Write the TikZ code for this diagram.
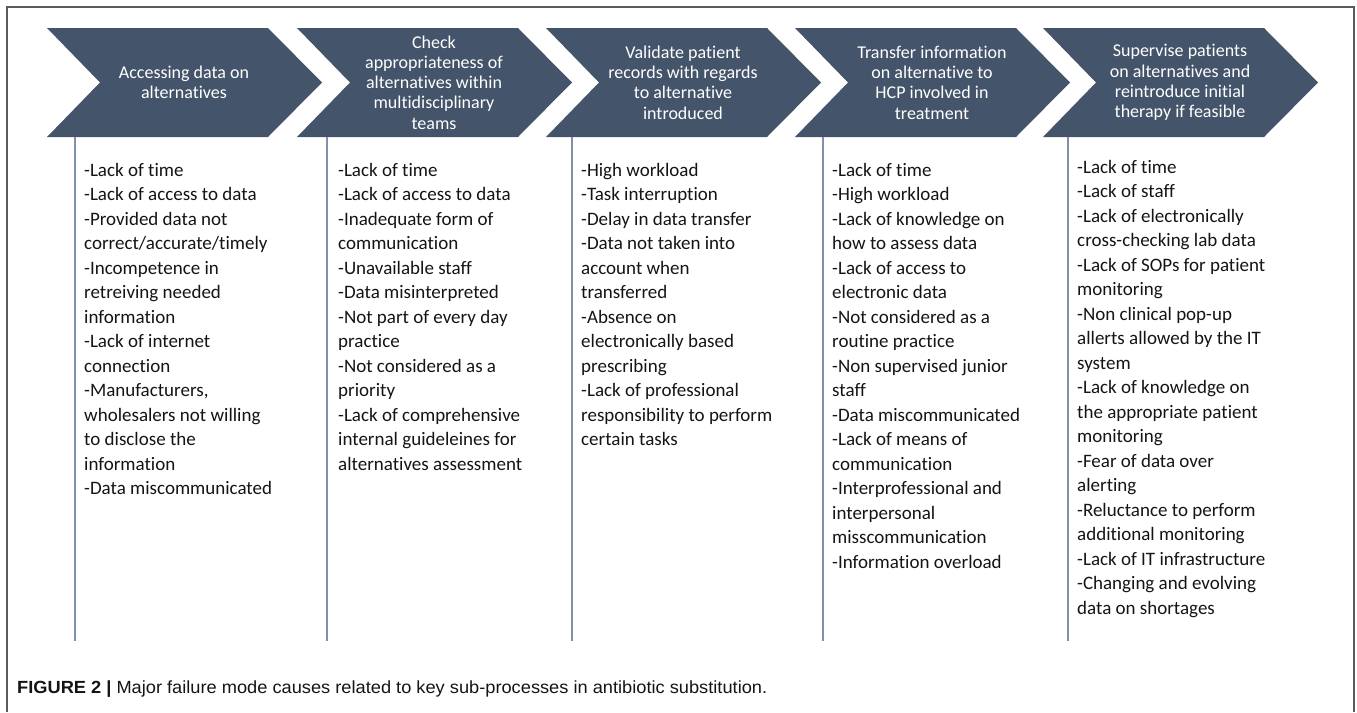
\documentclass[tikz,border=0pt]{standalone}
\usepackage{fontspec}
\usepackage{graphicx}
\newfontfamily\bodyfont[RawFeature={-liga;-clig;-calt;-dlig}]{Carlito}
\newfontfamily\capfont{Liberation Sans}
\definecolor{chev}{HTML}{44546A}
\definecolor{vline}{HTML}{8091AB}
\definecolor{frame}{HTML}{5A5A5A}
\definecolor{txt}{HTML}{141414}
\tikzset{
  chevron/.style={fill=chev, draw=none},
  headtxt/.style={text=white, align=center, inner sep=0pt, font=\bodyfont\fontsize{18}{20.3}\selectfont},
  bodytxt/.style={text=txt, align=left, anchor=north west, inner sep=0pt, font=\bodyfont\fontsize{19}{24.5}\selectfont},
  colline/.style={draw=vline, line width=1.2pt},
  framestyle/.style={draw=frame, line width=1.6pt}
}
\begin{document}
\begin{tikzpicture}[x=1pt,y=-1pt]
\useasboundingbox (0,0) rectangle (1357,712);
% frame
\draw[framestyle] (7,712) -- (7,7) -- (1354,7) -- (1354,712);
% chevrons
\foreach \L/\n in {47/1,297/2,546/3,795/4,1043/5}{
  \fill[chevron] (\L,28) -- ++(221,0) -- ++(54,54.5) -- ++(-54,54.5) -- ++(-221,0) -- ++(53,-54.5) -- cycle;
}
% header texts
\node[headtxt] (h1) at (184,82.5) {Accessing data on\\alternatives};
\node[headtxt] (h2) at (434,82.5) {Check\\appropriateness of\\alternatives within\\multidisciplinary\\teams};
\node[headtxt] (h3) at (683,82.5) {Validate patient\\records with regards\\to alternative\\introduced};
\node[headtxt] (h4) at (932,82.5) {Transfer information\\on alternative to\\HCP involved in\\treatment};
\node[headtxt] (h5) at (1180,82.5) {Supervise patients\\on alternatives and\\reintroduce initial\\therapy if feasible};
% column lines
\coordinate (t1) at (75,137);   \coordinate (b1) at (75,641);
\coordinate (t2) at (327,137);  \coordinate (b2) at (327,641);
\coordinate (t3) at (572,137);  \coordinate (b3) at (572,641);
\coordinate (t4) at (823,137);  \coordinate (b4) at (823,641);
\coordinate (t5) at (1068,137); \coordinate (b5) at (1068,641);
\foreach \i in {1,...,5}{\draw[colline] (t\i) -- (b\i);}
% body texts
\node[bodytxt] (c1) at (84,158.85) {\strut-Lack of time\\-Lack of access to data\\-Provided data not\\correct/accurate/timely\\-Incompetence in\\retreiving needed\\information\\-Lack of internet\\connection\\-Manufacturers,\\wholesalers not willing\\to disclose the\\information\\-Data miscommunicated};
\node[bodytxt] (c2) at (338,158.85) {\strut-Lack of time\\-Lack of access to data\\-Inadequate form of\\communication\\-Unavailable staff\\-Data misinterpreted\\-Not part of every day\\practice\\-Not considered as a\\priority\\-Lack of comprehensive\\internal guideleines for\\alternatives assessment};
\node[bodytxt] (c3) at (581,158.85) {\strut-High workload\\-Task interruption\\-Delay in data transfer\\-Data not taken into\\account when\\transferred\\-Absence on\\electronically based\\prescribing\\-Lack of professional\\responsibility to perform\\certain tasks};
\node[bodytxt] (c4) at (832,158.85) {\strut-Lack of time\\-High workload\\-Lack of knowledge on\\how to assess data\\-Lack of access to\\electronic data\\-Not considered as a\\routine practice\\-Non supervised junior\\staff\\-Data miscommunicated\\-Lack of means of\\communication\\-Interprofessional and\\interpersonal\\misscommunication\\-Information overload};
\node[bodytxt] (c5) at (1077,155.85) {\strut-Lack of time\\-Lack of staff\\-Lack of electronically\\cross-checking lab data\\-Lack of SOPs for patient\\monitoring\\-Non clinical pop-up\\allerts allowed by the IT\\system\\-Lack of knowledge on\\the appropriate patient\\monitoring\\-Fear of data over\\alerting\\-Reluctance to perform\\additional monitoring\\-Lack of IT infrastructure\\-Changing and evolving\\data on shortages};
% caption
\node[anchor=base west, inner sep=0pt, text=txt] (cap) at (17,693) {\resizebox{750pt}{\height}{\capfont\fontsize{17.6}{20}\selectfont\textbf{FIGURE 2 |} Major failure mode causes related to key sub-processes in antibiotic substitution.}};
\end{tikzpicture}
\end{document}
